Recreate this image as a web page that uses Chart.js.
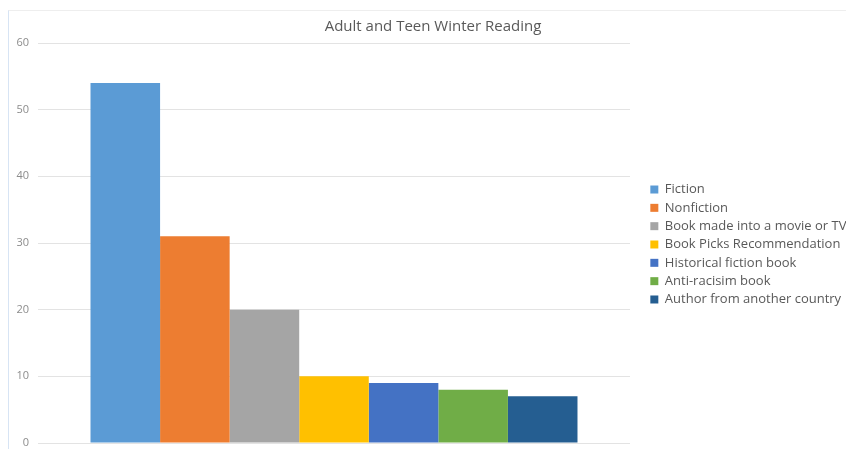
<!DOCTYPE html>
<html>
<head>
<meta charset="utf-8">
<script src="https://cdn.jsdelivr.net/npm/chart.js@4.4.1/dist/chart.umd.min.js"></script>
<style>
  html, body { margin: 0; padding: 0; background: #ffffff; }
  #wrap { position: relative; width: 846px; height: 449px; }
  #frame { position: absolute; left: 8px; top: 10px; width: 900px; height: 500px;
           border-top: 1px solid #eeeeee; border-left: 1px solid #d7e4f4; pointer-events: none; }
  canvas { position: absolute; left: 0; top: 0; }
</style>
</head>
<body>
<div id="wrap">
  <div id="frame"></div>
  <canvas id="c" width="846" height="449"></canvas>
</div>
<script>
const titleText = 'Adult and Teen Winter Reading';
const categories = [''];
const seriesNames = [
  'Fiction',
  'Nonfiction',
  'Book made into a movie or TV',
  'Book Picks Recommendation',
  'Historical fiction book',
  'Anti-racisim book',
  'Author from another country'
];
const seriesValues = [54, 31, 20, 10, 9, 8, 7];
const seriesColors = ['#5B9BD5', '#ED7D31', '#A5A5A5', '#FFC000', '#4472C4', '#70AD47', '#255E91'];
const yTicks = [0, 10, 20, 30, 40, 50, 60];

const datasets = seriesNames.map((name, i) => ({
  label: name,
  data: [seriesValues[i]],
  backgroundColor: seriesColors[i],
  borderWidth: 0,
  categoryPercentage: 0.8226,
  barPercentage: 1.0,
  yAxisID: 'y'
}));

const FONT = '"Open Sans", "Liberation Sans", sans-serif';

new Chart(document.getElementById('c'), {
  type: 'bar',
  data: { labels: categories, datasets },
  options: {
    responsive: false,
    animation: false,
    devicePixelRatio: 1,
    layout: { padding: { left: 20, right: 0, top: 0, bottom: 6 } },
    plugins: {
      title: {
        display: true,
        text: titleText,
        color: '#595959',
        font: { family: FONT, size: 15, weight: 'normal' },
        padding: { top: 18, bottom: 7 }
      },
      legend: {
        position: 'right',
        align: 'center',
        maxWidth: 201,
        title: {
          display: true,
          text: ' ',
          font: { family: FONT, size: 10 },
          padding: { top: 34, bottom: 0 }
        },
        labels: {
          boxWidth: 8,
          boxHeight: 8,
          padding: 5.33,
          color: '#595959',
          font: { family: FONT, size: 13 }
        }
      },
      tooltip: { enabled: false }
    },
    scales: {
      x: {
        display: false,
        grid: { display: false }
      },
      y: {
        min: 0,
        max: 60,
        afterBuildTicks: (s) => { s.ticks = yTicks.map(v => ({ value: v })); },
        afterFit: (s) => { s.width = 18; s._computeLabelArea = () => undefined; },
        ticks: {
          padding: 0,
          color: '#8c8c8c',
          font: { family: FONT, size: 11, lineHeight: 1.0 }
        },
        grid: { color: '#e3e3e3', drawTicks: true, tickLength: 9, tickColor: 'rgba(0,0,0,0)' },
        border: { display: false }
      },
      gap: {
        type: 'linear',
        position: 'right',
        display: true,
        ticks: { display: false },
        grid: { display: false },
        border: { display: false },
        afterFit: (s) => { s.width = 15; }
      }
    }
  }
});
</script>
</body>
</html>
